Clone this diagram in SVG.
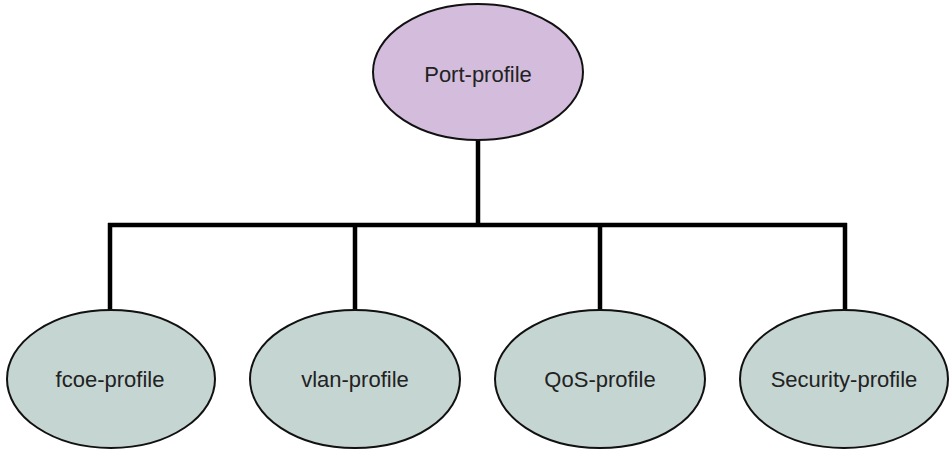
<svg xmlns="http://www.w3.org/2000/svg" width="950" height="451" viewBox="0 0 950 451">
<style>
.n ellipse{stroke:#111;stroke-width:2}
.root{fill:#d3bcdc}
.leaf{fill:#c5d5d2}
text{font-family:"Liberation Sans",Arial,sans-serif;font-size:22px;fill:#222;text-anchor:middle}
#connectors path{fill:none;stroke:#000;stroke-width:4.5}
</style>
<rect width="950" height="451" fill="#fff"/>
<g id="connectors">
<path d="M478 140V225"/>
<path d="M108 225H847"/>
<path d="M110 223V310M355 223V310M600 223V310M845 223V310"/>
</g>
<g id="port-profile" class="n"><ellipse class="root" cx="478" cy="72" rx="105" ry="68"/><text x="478" y="82">Port-profile</text></g>
<g id="fcoe-profile" class="n"><ellipse class="leaf" cx="111" cy="379" rx="104" ry="69"/><text x="110" y="387">fcoe-profile</text></g>
<g id="vlan-profile" class="n"><ellipse class="leaf" cx="355" cy="379" rx="105" ry="69"/><text x="355" y="387">vlan-profile</text></g>
<g id="qos-profile" class="n"><ellipse class="leaf" cx="600" cy="379" rx="105" ry="69"/><text x="600" y="387">QoS-profile</text></g>
<g id="security-profile" class="n"><ellipse class="leaf" cx="844" cy="379" rx="104" ry="69"/><text x="844" y="387">Security-profile</text></g>
</svg>
